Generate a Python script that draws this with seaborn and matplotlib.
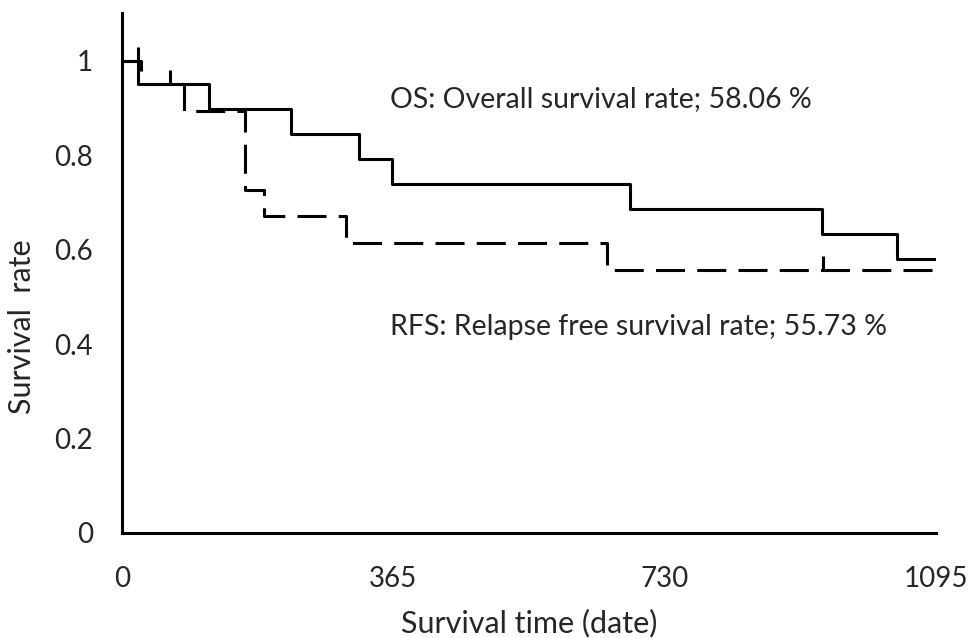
import numpy as np
import pandas as pd
import matplotlib.pyplot as plt
import seaborn as sns
from matplotlib.path import Path

# Kaplan-Meier step data (days, survival)
os_time = [0, 21, 117, 227, 319, 363, 684, 942, 1042, 1095]
os_surv = [1.0, 0.95, 0.8972, 0.8444, 0.7917, 0.7389, 0.6861, 0.6333, 0.5806, 0.5806]
rfs_time = [0, 25, 83, 165, 191, 301, 653, 1095]
rfs_surv = [1.0, 0.95, 0.894, 0.7265, 0.6706, 0.6147, 0.5573, 0.5573]

# censored observations (days)
os_censor = [65]
rfs_censor = [21, 943]

x_ticks = [0, 365, 730, 1095]
y_ticks = [0, 0.2, 0.4, 0.6, 0.8, 1.0]
y_tick_labels = ["0", "0.2", "0.4", "0.6", "0.8", "1"]

os_text = "OS: Overall survival rate; 58.06 %"
rfs_text = "RFS: Relapse free survival rate; 55.73 %"


def surv_at(times, surv, t):
    idx = np.searchsorted(times, t, side="right") - 1
    return np.asarray(surv)[idx]


sns.set_style("white")
plt.rcParams["font.family"] = ["Lato", "DejaVu Sans"]

fig = plt.figure(figsize=(9.68, 6.38), dpi=100)
ax = fig.add_axes([0.126, 0.1646, 0.841, 0.8145])

df_os = pd.DataFrame({"time": os_time, "surv": os_surv})
df_rfs = pd.DataFrame({"time": rfs_time, "surv": rfs_surv})

lw = 2.2
sns.lineplot(data=df_os, x="time", y="surv", ax=ax, color="black",
             drawstyle="steps-post", linewidth=lw, estimator=None)
sns.lineplot(data=df_rfs, x="time", y="surv", ax=ax, color="black",
             drawstyle="steps-post", linewidth=lw, estimator=None,
             dashes=False, linestyle=(0, (9.5, 4)), dash_capstyle="butt")

# censor marks: short ticks pointing upward from the curve
tick_up = Path([(0, 0), (0, 1)], [Path.MOVETO, Path.LINETO])
cens = pd.DataFrame({
    "time": os_censor + rfs_censor,
    "surv": [surv_at(os_time, os_surv, t) for t in os_censor]
    + [surv_at(rfs_time, rfs_surv, t) for t in rfs_censor],
})
sns.scatterplot(data=cens, x="time", y="surv", ax=ax, marker=tick_up, s=400,
                edgecolor="black", facecolor="none", linewidth=lw, zorder=5)

ax.text(360, 0.918, os_text, fontsize=20.5, va="center", ha="left")
ax.text(360, 0.437, rfs_text, fontsize=20.5, va="center", ha="left")

ax.set_xlim(0, 1095)
ax.set_ylim(0, 1.1)
ax.set_xticks(x_ticks)
ax.set_yticks(y_ticks)
ax.set_yticklabels(y_tick_labels)
ax.set_xlabel("Survival time (date)", fontsize=22, labelpad=12)
ax.set_ylabel("Survival  rate", fontsize=22)
ax.yaxis.set_label_coords(-0.106, 0.397)

sns.despine(ax=ax)
for s in ["left", "bottom"]:
    ax.spines[s].set_linewidth(lw)
    ax.spines[s].set_color("black")
ax.tick_params(axis="x", direction="in", length=9, width=lw, pad=24,
               labelsize=20, color="black")
ax.tick_params(axis="y", direction="in", length=6.5, width=lw, pad=21,
               labelsize=20, color="black")

fig.savefig("out.png", dpi=100)
